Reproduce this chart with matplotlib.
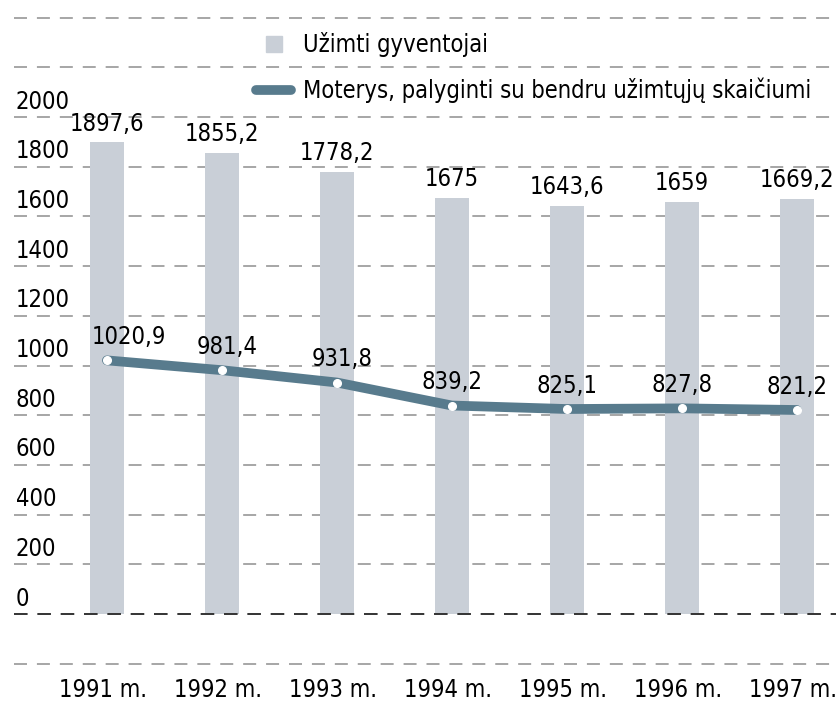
import numpy as np
import matplotlib.pyplot as plt
from matplotlib.lines import Line2D

plt.rcParams['font.family'] = ['Liberation Sans Narrow', 'DejaVu Sans']
plt.rcParams['font.stretch'] = 'condensed'

years = ['1991 m.', '1992 m.', '1993 m.', '1994 m.', '1995 m.', '1996 m.', '1997 m.']
employed = [1897.6, 1855.2, 1778.2, 1675, 1643.6, 1659, 1669.2]
women = [1020.9, 981.4, 931.8, 839.2, 825.1, 827.8, 821.2]
ytick_vals = [0, 200, 400, 600, 800, 1000, 1200, 1400, 1600, 1800, 2000]
bar_label = 'Užimti gyventojai'
line_label = 'Moterys, palyginti su bendru užimtųjų skaičiumi'

bar_col = '#c9cfd7'
line_col = '#587b8d'
grid_col = '#8e8e8e'
fs = 17

def fmt(v):
    return ('%g' % v).replace('.', ',')

fig = plt.figure(figsize=(8.37, 7.09), dpi=100, facecolor='white')
ax = fig.add_axes([0, 0, 1, 1])
x = np.arange(len(years))
ax.set_xlim(-0.93, 6.35)
ax.set_ylim(-382, 2471)
for s in ax.spines.values():
    s.set_visible(False)
ax.set_xticks([])
ax.set_yticks([])

# dashed grid, -200 .. 2400
for g in np.arange(-200, 2401, 200):
    if g == 0:
        continue
    ax.axhline(g, xmin=14/837, xmax=1, color=grid_col, lw=1.1, dashes=(8.5, 6.5), zorder=0)
ax.axhline(0, xmin=14/837, xmax=1, color='#333333', lw=1.4, dashes=(7, 5), zorder=3)

ax.bar(x, employed, width=0.3, color=bar_col, zorder=1)
for xi, v in zip(x, employed):
    ax.annotate(fmt(v), (xi, v), xytext=(0, 5), textcoords='offset points',
                ha='center', va='bottom', fontsize=fs, zorder=5)

ax.plot(x, women, color=line_col, lw=7, solid_joinstyle='round',
        solid_capstyle='round', zorder=4)
ax.plot(x, women, 'o', color='white', ms=5.5, zorder=5)
dx = [16, 4, 4, 0, 0, 0, 0]
for xi, v, d in zip(x, women, dx):
    ax.annotate(fmt(v), (xi, v), xytext=(d, 8), textcoords='offset points',
                ha='center', va='bottom', fontsize=fs, zorder=6)

# y tick labels sitting above the grid lines
for t in ytick_vals:
    ax.text(16/837, t + 14, str(t), transform=ax.get_yaxis_transform(),
            ha='left', va='bottom', fontsize=fs)

for xi, lab in zip(x, years):
    ax.annotate(lab, (xi, -305), xytext=(-3, 0), textcoords='offset points',
                ha='center', va='center', fontsize=fs)

handles = [Line2D([], [], marker='s', ms=12, color=bar_col, lw=0),
           Line2D([], [], color=line_col, lw=7, solid_capstyle='round')]
leg = ax.legend(handles, [bar_label, line_label], loc='upper left',
                bbox_to_anchor=(256/837, 1 - 32/709), frameon=False,
                fontsize=fs, borderpad=0, borderaxespad=0, handlelength=1.5,
                handletextpad=0.5, labelspacing=0.88)

fig.savefig('out.png', dpi=100, facecolor='white')
